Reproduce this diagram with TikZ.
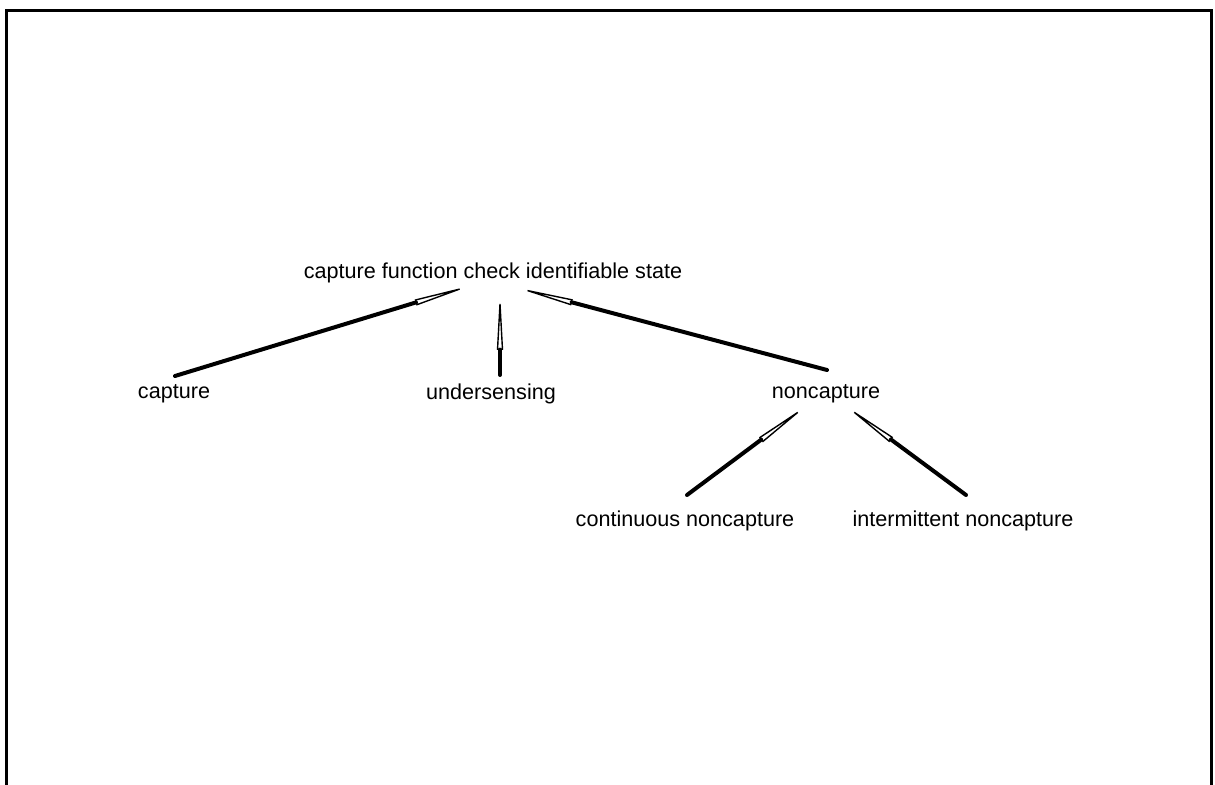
\documentclass[tikz,border=0pt]{standalone}
\usepackage{fontspec}
\setmainfont{Liberation Sans}
\usetikzlibrary{arrows.meta}
\tikzstyle{statenode} = [inner sep=1pt, font=\fontsize{10.8}{12}\selectfont]
\tikzset{branch/.style={line width=2pt, line cap=round,
    -{Stealth[open, length=30pt, width=3pt, inset=0pt, line width=0.7pt]}},
    frame/.style={line width=1.5pt}}

\begin{document}
\begin{tikzpicture}[x=0.5pt,y=-0.5pt]
    % Page and frame
    \useasboundingbox (0,0) rectangle (1215,785);
    \draw[frame] (6,785) -- (6,11) -- (1211,11) -- (1211,785);
    %
    % States
    \node[statenode] (root) at (493,273) {capture function check identifiable state};
    \node[statenode] (capture) at (174,394) {capture};
    \node[statenode] (undersensing) at (491,394) {undersensing};
    \node[statenode] (noncapture) at (826,394) {noncapture};
    \node[statenode] (continuous) at (685,521) {continuous noncapture};
    \node[statenode] (intermittent) at (963,521) {intermittent noncapture};
    %
    % Branches, pointing up to the parent
    \draw[branch] ([shift={(1,-18)}]capture.center) -- ([shift={(-20,12)}]root.center);
    \draw[branch] ([shift={(9,-19)}]undersensing.center) -- ([shift={(7,17)}]root.center);
    \draw[branch] ([shift={(1,-24)}]noncapture.center) -- ([shift={(21,14)}]root.center);
    \draw[branch] ([shift={(2,-26)}]continuous.center) -- ([shift={(-17,10)}]noncapture.center);
    \draw[branch] ([shift={(3,-26)}]intermittent.center) -- ([shift={(17,10)}]noncapture.center);
\end{tikzpicture}
\end{document}
